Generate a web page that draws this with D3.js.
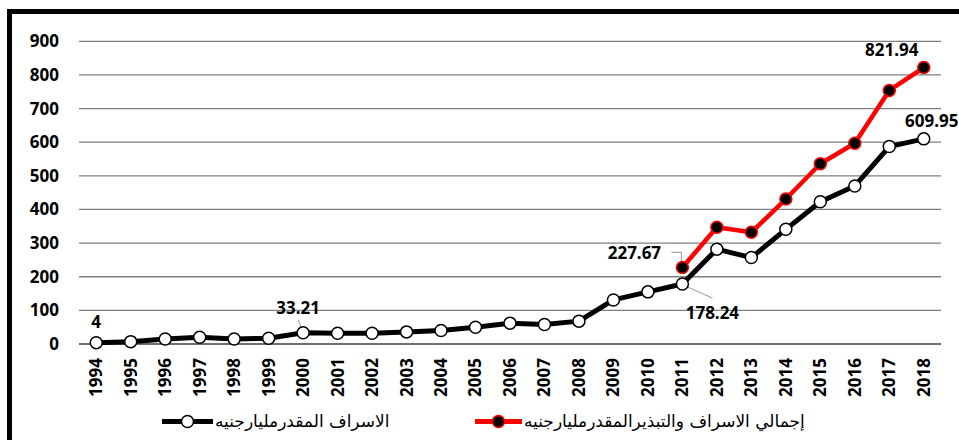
<!DOCTYPE html>
<html>
<head>
<meta charset="utf-8">
<script src="https://cdn.jsdelivr.net/npm/d3@7"></script>
<style>
  body { margin: 0; background: #fff; }
  svg { display: block; }
  .tick-label { font-family: "Noto Sans", sans-serif; font-weight: bold; font-size: 17px; fill: #000; }
  .legend-text { font-family: "DejaVu Sans", sans-serif; font-size: 17px; fill: #000; }
</style>
</head>
<body>
<div id="chart"></div>
<script>
// data
const years = ['1994', '1995', '1996', '1997', '1998', '1999', '2000', '2001', '2002', '2003', '2004', '2005',
  '2006', '2007', '2008', '2009', '2010', '2011', '2012', '2013', '2014', '2015', '2016', '2017', '2018'];
const wasteValues = [4, 7, 15, 20, 15, 17, 33.21, 32, 32, 36, 40, 50,
  62, 58, 68, 131, 155, 178.24, 282, 257, 341, 423, 470, 587, 609.95];
const totalYears = ['2011', '2012', '2013', '2014', '2015', '2016', '2017', '2018'];
const totalValues = [227.67, 347, 332, 431, 536, 597, 754, 821.94];
const yTicks = [0, 100, 200, 300, 400, 500, 600, 700, 800, 900];
const wasteName = 'الاسراف المقدرمليارجنيه';
const totalName = 'إجمالي الاسراف والتبذيرالمقدرمليارجنيه';

const width = 959;
const height = 440;
const margin = { top: 41.3, right: 18, bottom: 96, left: 79 };

const svg = d3.select('#chart').append('svg')
  .attr('width', width)
  .attr('height', height);

// frame (top + left thick border)
svg.append('line').attr('x1', 7).attr('x2', width).attr('y1', 11.5).attr('y2', 11.5)
  .attr('stroke', '#000').attr('stroke-width', 5);
svg.append('line').attr('x1', 9.5).attr('x2', 9.5).attr('y1', 9).attr('y2', height)
  .attr('stroke', '#000').attr('stroke-width', 5);

const gx = d3.scaleBand().domain(years).range([margin.left, width - margin.right]).padding(0);
const gy = d3.scaleLinear().domain([0, 900]).range([height - margin.bottom, margin.top]);
const cx = d => gx(d) + gx.bandwidth() / 2;

// grid
svg.append('g').selectAll('line').data(yTicks).join('line')
  .attr('x1', margin.left).attr('x2', width - margin.right)
  .attr('y1', d => gy(d)).attr('y2', d => gy(d))
  .attr('stroke', d => d === 0 ? '#404040' : '#7f7f7f')
  .attr('stroke-width', 1.3);

// y labels
svg.append('g').selectAll('text').data(yTicks).join('text')
  .attr('class', 'tick-label')
  .attr('x', 59).attr('y', d => gy(d)).attr('dy', '0.35em')
  .attr('text-anchor', 'end')
  .text(d => d);

// x labels
svg.append('g').selectAll('text').data(years).join('text')
  .attr('class', 'tick-label')
  .attr('transform', d => `translate(${cx(d)},358) rotate(-90)`)
  .attr('dy', '0.35em')
  .attr('text-anchor', 'end')
  .text(d => d);

const line = d3.line().x(d => cx(d[0])).y(d => gy(d[1]));
const wasteData = years.map((y, i) => [y, wasteValues[i]]);
const totalData = totalYears.map((y, i) => [y, totalValues[i]]);

// leader lines
const leader = svg.append('g').attr('fill', 'none').attr('stroke', '#a6a6a6').attr('stroke-width', 1.2);
leader.append('polyline')
  .attr('points', `${cx('2011') - 11},${gy(227.67) - 15} ${cx('2011') - 1},${gy(227.67) - 15} ${cx('2011') - 1},${gy(227.67) - 5}`);
leader.append('line')
  .attr('x1', cx('2011') + 5).attr('y1', gy(178.24) + 3)
  .attr('x2', cx('2011') + 30).attr('y2', gy(178.24) + 14);
leader.append('line')
  .attr('x1', cx('2000') - 5).attr('y1', gy(33.21) - 13)
  .attr('x2', cx('2000') - 1).attr('y2', gy(33.21) - 3);

// series lines
svg.append('path').datum(wasteData)
  .attr('fill', 'none').attr('stroke', '#000').attr('stroke-width', 5)
  .attr('stroke-linejoin', 'round')
  .attr('d', line);
svg.append('path').datum(totalData)
  .attr('fill', 'none').attr('stroke', '#ff0000').attr('stroke-width', 4.5)
  .attr('stroke-linejoin', 'round')
  .attr('d', line);

// markers
svg.append('g').selectAll('circle').data(wasteData).join('circle')
  .attr('cx', d => cx(d[0])).attr('cy', d => gy(d[1])).attr('r', 6)
  .attr('fill', '#fff').attr('stroke', '#000').attr('stroke-width', 1.5);
svg.append('g').selectAll('circle').data(totalData).join('circle')
  .attr('cx', d => cx(d[0])).attr('cy', d => gy(d[1])).attr('r', 6)
  .attr('fill', '#000').attr('stroke', '#ff0000').attr('stroke-width', 1.5);

// data labels
const labels = [
  { year: '1994', value: 4, dx: 0, dy: -21 },
  { year: '2000', value: 33.21, dx: -5, dy: -25 },
  { year: '2011', value: 178.24, dx: 30, dy: 29 },
  { year: '2011', value: 227.67, dx: -48, dy: -14 },
  { year: '2018', value: 821.94, dx: -32, dy: -18 },
  { year: '2018', value: 609.95, dx: 8, dy: -18 }
];
svg.append('g').selectAll('text').data(labels).join('text')
  .attr('class', 'tick-label')
  .attr('x', d => cx(d.year) + d.dx).attr('y', d => gy(d.value) + d.dy)
  .attr('dy', '0.35em')
  .attr('text-anchor', 'middle')
  .text(d => d.value);

// legend
const legendY = 421.5;
const legend = [
  { name: wasteName, x: 162, len: 51, stroke: '#000', fill: '#fff' },
  { name: totalName, x: 475, len: 47, stroke: '#ff0000', fill: '#000' }
];
const lg = svg.append('g').selectAll('g').data(legend).join('g');
lg.append('line')
  .attr('x1', d => d.x).attr('x2', d => d.x + d.len)
  .attr('y1', legendY).attr('y2', legendY)
  .attr('stroke', d => d.stroke).attr('stroke-width', 5);
lg.append('circle')
  .attr('cx', d => d.x + d.len / 2).attr('cy', legendY).attr('r', 6)
  .attr('fill', d => d.fill).attr('stroke', d => d.stroke).attr('stroke-width', 1.5);
lg.append('text')
  .attr('class', 'legend-text')
  .attr('x', d => d.x + d.len + 2).attr('y', legendY).attr('dy', '0.35em')
  .attr('text-anchor', 'start')
  .text(d => d.name);
</script>
</body>
</html>
